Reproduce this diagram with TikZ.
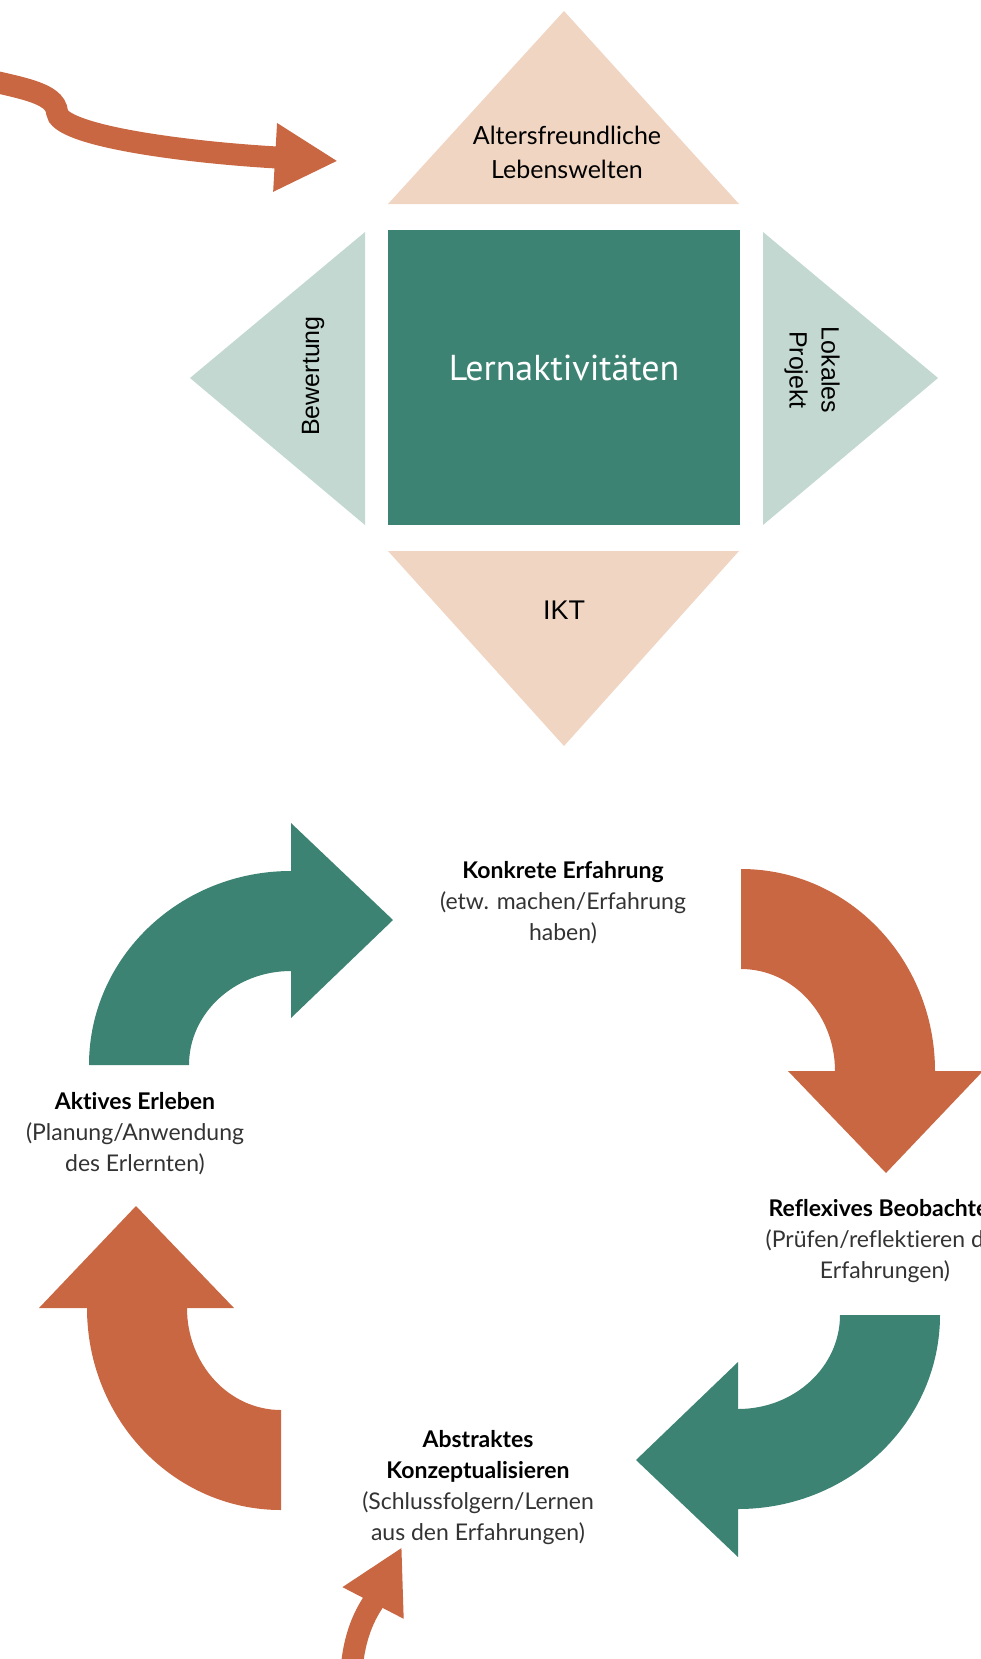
\documentclass[tikz,border=0pt]{standalone}
\usepackage{fontspec}
\usepackage{xcolor}
\usetikzlibrary{arrows.meta}
\setmainfont{Lato}[Ligatures=NoCommon]
\newfontfamily\arialfont{Liberation Sans}
\newfontfamily\ptsans{PT Sans}[Ligatures=NoCommon]
\definecolor{tealgreen}{HTML}{3D8373}
\definecolor{rust}{HTML}{C96742}
\definecolor{peach}{HTML}{F0D5C3}
\definecolor{sage}{HTML}{C2D8D1}
\definecolor{subgray}{HTML}{333333}

\begin{document}
\begin{tikzpicture}[x=1pt, y=-1pt,
    tri label/.style={font=\arialfont\fontsize{25}{32}\selectfont, align=center},
    cycle label/.style={font=\fontsize{23}{31}\selectfont, align=center},
    bend arrow/.style={rust, line width=22pt, -{Triangle[length=63pt, width=64pt]}}]
    \useasboundingbox (0,0) rectangle (980,1659);
    % Diamond - four triangles round the square
    \fill[peach] (388,204) -- (564,11) -- (739,204) -- cycle;
    \fill[peach] (388,551) -- (564,746) -- (739,551) -- cycle;
    \fill[sage] (365,232) -- (190,378) -- (365,525) -- cycle;
    \fill[sage] (763,232) -- (938,378) -- (763,525) -- cycle;
    \fill[tealgreen] (388,230) rectangle (740,525);
    \node[font=\fontsize{25}{34}\selectfont, align=center] (welten) at (567,152) {Altersfreundliche\\Lebenswelten};
    \node[white, font=\ptsans\fontsize{36}{40}\selectfont] (lern) at (564,368) {Lernaktivitäten};
    \node[tri label, rotate=90] (bewertung) at (313,376) {Bewertung};
    \node[tri label, rotate=-90] (projekt) at (812,370) {Lokales\\Projekt};
    \node[tri label, font=\arialfont\fontsize{27}{32}\selectfont] (ikt) at (564,610) {IKT};
    % Cycle - four bent arrows
    \foreach \cx/\cy/\rot/\col in {291/1065/0/tealgreen, 741/1071/-90/rust, 738/1315/180/tealgreen, 281/1308/90/rust}
        \fill[\col, shift={(\cx,\cy)}, rotate=\rot] (-202,0) arc[start angle=180, end angle=270, x radius=202, y radius=194]
            -- (0,-242) -- (102,-145) -- (0,-47) -- (0,-94) arc[start angle=270, end angle=180, x radius=102, y radius=94] -- cycle;
    \node[cycle label] (konkret) at (563,903) {\textbf{Konkrete Erfahrung}\\\textcolor{subgray}{(etw. machen/Erfahrung}\\\textcolor{subgray}{haben)}};
    \node[cycle label] (reflex) at (885,1241) {\textbf{Reflexives Beobachten}\\\textcolor{subgray}{(Prüfen/reflektieren der}\\\textcolor{subgray}{Erfahrungen)}};
    \node[cycle label] (abstrakt) at (478,1488) {\textbf{Abstraktes}\\\textbf{Konzeptualisieren}\\\textcolor{subgray}{(Schlussfolgern/Lernen}\\\textcolor{subgray}{aus den Erfahrungen)}};
    \node[cycle label] (aktiv) at (135,1134) {\textbf{Aktives Erleben}\\\textcolor{subgray}{(Planung/Anwendung}\\\textcolor{subgray}{des Erlernten)}};
    % Arrows coming in from outside
    \coordinate (topin) at (-30,76);
    \coordinate (toptip) at (338,161);
    \draw[bend arrow] (topin) .. controls (20,88) and (55,92) .. (57,112) .. controls (58,135) and (180,152) .. (toptip);
    \coordinate (botin) at (351,1685);
    \coordinate (bottip) at (402,1547);
    \draw[bend arrow] (botin) .. controls (351,1630) and (372,1605) .. (bottip);
\end{tikzpicture}
\end{document}
